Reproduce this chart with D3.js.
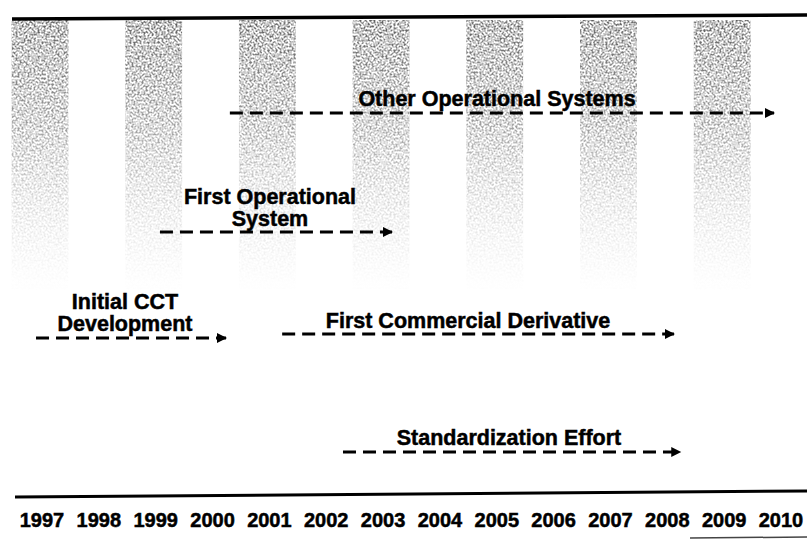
<!DOCTYPE html>
<html>
<head>
<meta charset="utf-8">
<script src="https://cdn.jsdelivr.net/npm/d3@7"></script>
<style>
  html, body { margin: 0; padding: 0; background: #fff; }
  svg { display: block; }
  text { font-family: "Liberation Sans", Arial, Helvetica, sans-serif; font-weight: bold; fill: #000; stroke: #000; stroke-width: 0.5; }
</style>
</head>
<body>
<svg id="chart" width="807" height="542"></svg>
<script>
// ---- data ----
const years = [1997, 1998, 1999, 2000, 2001, 2002, 2003, 2004, 2005, 2006, 2007, 2008, 2009, 2010];
const shadedYears = [1997, 1999, 2001, 2003, 2005, 2007, 2009];
const activities = ["Other Operational Systems", "First Operational System", "Initial CCT Development", "First Commercial Derivative", "Standardization Effort"];
const labelLines = [["Other Operational Systems"], ["First Operational", "System"], ["Initial CCT", "Development"], ["First Commercial Derivative"], ["Standardization Effort"]];
const startYears = [2000.34, 1999.11, 1996.93, 2001.26, 2002.33];
const endYears = [2009.93, 2003.21, 2000.29, 2008.17, 2008.28];

// ---- layout (not data) ----
const arrowY = [113, 232, 338, 334, 452];
const labelX = [497, 270, 125, 468, 509];
const labelBaseline = [106, 204, 309, 328, 445];
const lineGap = 22;
const labelSize = 21.5;

const svg = d3.select("#chart");
const x = d3.scaleLinear().domain([1997, 2010]).range([40, 779]);

const defs = svg.append("defs");
const grad = defs.append("linearGradient").attr("id", "bandGrad")
  .attr("x1", 0).attr("y1", 0).attr("x2", 0).attr("y2", 1);
grad.append("stop").attr("offset", "0%").attr("stop-color", "#555").attr("stop-opacity", 0.95);
grad.append("stop").attr("offset", "40%").attr("stop-color", "#777").attr("stop-opacity", 0.72);
grad.append("stop").attr("offset", "70%").attr("stop-color", "#999").attr("stop-opacity", 0.35);
grad.append("stop").attr("offset", "100%").attr("stop-color", "#bbb").attr("stop-opacity", 0);

const f = defs.append("filter").attr("id", "speckle")
  .attr("x", 0).attr("y", 0).attr("width", 1).attr("height", 1);
f.append("feTurbulence").attr("type", "fractalNoise").attr("baseFrequency", "0.5")
  .attr("numOctaves", 3).attr("seed", 7).attr("result", "noise");
f.append("feColorMatrix").attr("in", "noise").attr("type", "matrix")
  .attr("values", "0 0 0 0 0  0 0 0 0 0  0 0 0 0 0  2.8 0 0 0 -1.05").attr("result", "mask");
f.append("feComposite").attr("in", "SourceGraphic").attr("in2", "mask").attr("operator", "in");

defs.append("marker").attr("id", "head")
  .attr("viewBox", "0 0 10 10").attr("refX", 9).attr("refY", 5)
  .attr("markerUnits", "userSpaceOnUse")
  .attr("markerWidth", 13).attr("markerHeight", 10).attr("orient", "auto")
  .append("path").attr("d", "M0,0 L10,5 L0,10 Z").attr("fill", "#000");

// shaded year bands
svg.append("g").selectAll("rect").data(shadedYears).join("rect")
  .attr("x", d => x(d - 0.5))
  .attr("width", d => x(d + 0.5) - x(d - 0.5))
  .attr("y", 20).attr("height", 270)
  .attr("fill", "url(#bandGrad)")
  .attr("filter", "url(#speckle)");

// frame lines
svg.append("line").attr("x1", 12).attr("y1", 19).attr("x2", 807).attr("y2", 15)
  .attr("stroke", "#000").attr("stroke-width", 3.5);
svg.append("line").attr("x1", 15).attr("y1", 497).attr("x2", 807).attr("y2", 491)
  .attr("stroke", "#000").attr("stroke-width", 3);
svg.append("line").attr("x1", 690).attr("y1", 538).attr("x2", 807).attr("y2", 537)
  .attr("stroke", "#444").attr("stroke-width", 1.5);

// year axis labels
svg.append("g").selectAll("text").data(years).join("text")
  .attr("x", d => x(d) + 2).attr("y", 527)
  .attr("text-anchor", "middle").attr("font-size", 20)
  .text(d => d);

// activity arrows
const g = svg.append("g");
activities.forEach((name, i) => {
  g.append("line")
    .attr("x1", x(startYears[i])).attr("x2", x(endYears[i]) - 1)
    .attr("y1", arrowY[i]).attr("y2", arrowY[i])
    .attr("stroke", "#000").attr("stroke-width", 3)
    .attr("stroke-dasharray", "13,7")
    .attr("marker-end", "url(#head)");
  const t = g.append("text").attr("text-anchor", "middle").attr("font-size", labelSize);
  labelLines[i].forEach((ln, j) => {
    t.append("tspan").attr("x", labelX[i]).attr("y", labelBaseline[i] + j * lineGap).text(ln);
  });
});
</script>
</body>
</html>
